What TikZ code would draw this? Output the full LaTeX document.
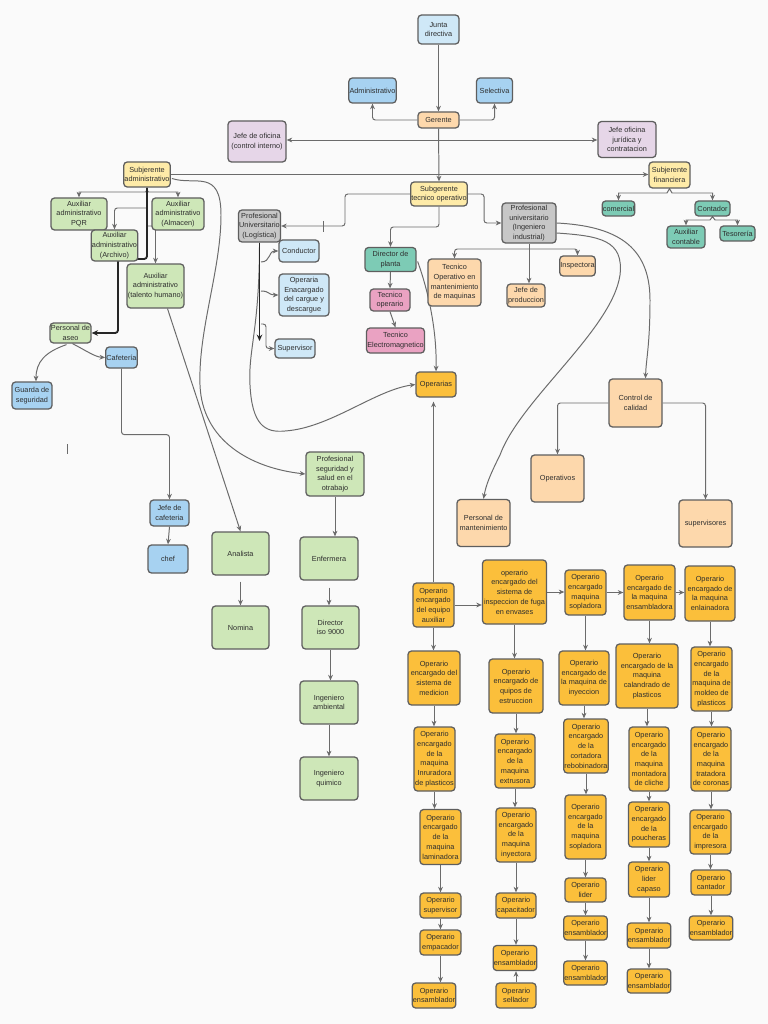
\documentclass[tikz,border=0pt]{standalone}
\usepackage{fontspec}
\setmainfont{Liberation Sans}
\usepackage{xcolor}
\usepackage{tikz}
\usetikzlibrary{positioning,arrows.meta,calc}
\pgfdeclarelayer{background}
\pgfsetlayers{background,main}
\definecolor{paper}{HTML}{FAFAFA}
\definecolor{edgegrey}{HTML}{5E5E5E}
\definecolor{wiregrey}{HTML}{6B6B6B}
\definecolor{inkgrey}{HTML}{2E2E2E}
\definecolor{skyblue}{HTML}{CFE8F7}
\definecolor{midblue}{HTML}{A7D2F1}
\definecolor{peach}{HTML}{FDD8AC}
\definecolor{lilac}{HTML}{E6D6E8}
\definecolor{sand}{HTML}{FEEBA8}
\definecolor{mint}{HTML}{7DCBB5}
\definecolor{greyfill}{HTML}{C7C7C7}
\definecolor{leaf}{HTML}{CEE7B8}
\definecolor{rose}{HTML}{EAA2C2}
\definecolor{amber}{HTML}{FBBF3B}
\tikzset{
  box/.style={draw=edgegrey, line width=0.9pt, rounded corners=2.5pt, align=center,
              inner sep=0.5pt, text=inkgrey, font=\fontsize{5.2}{6.9}\selectfont},
  wh/.style 2 args={minimum width=#1*0.025cm, minimum height=#2*0.025cm},
  skybox/.style={box, fill=skyblue},
  bluebox/.style={box, fill=midblue},
  peachbox/.style={box, fill=peach},
  lilacbox/.style={box, fill=lilac},
  sandbox/.style={box, fill=sand},
  mintbox/.style={box, fill=mint},
  greybox/.style={box, fill=greyfill},
  leafbox/.style={box, fill=leaf},
  rosebox/.style={box, fill=rose},
  amberbox/.style={box, fill=amber},
  wire/.style={draw=wiregrey, line width=0.7pt},
  arrow/.style={wire, -{Stealth[length=1.4mm, width=1.2mm]}},
  fork/.style={wire, {Stealth[length=1.4mm, width=1.2mm]}-{Stealth[length=1.4mm, width=1.2mm]}},
  trunk/.style={draw=black!85, line width=1.3pt, -{Stealth[length=1.6mm, width=1.4mm]}},
}

\begin{document}
\begin{tikzpicture}[x=0.025cm, y=-0.025cm]
  \useasboundingbox (0,0) rectangle (768,1024);

  % direction
  \node[skybox, wh={41}{29}]   (jd)  at (438.5,29.5) {Junta\\directiva};
  \node[bluebox, wh={46}{25}]  (adm) at (372.5,90.5) {Administrativo};
  \node[bluebox, wh={36}{25}]  (sel) at (494.5,90.5) {Selectiva};
  \node[peachbox, wh={41}{16}] (ger) at (438.5,120) {Gerente};
  \node[lilacbox, wh={58}{41}] (jci) at (257,141.5) {Jefe de oficina\\(control interno)};
  \node[lilacbox, wh={58}{36}] (jjc) at (627,139.5) {Jefe oficina\\jurídica y\\contratacion};
  \node[sandbox, wh={40}{25}]  (sa)  at (147,174.5) {Subjerente\\administrativo};
  \node[sandbox, wh={56}{24}]  (st)  at (439,194) {Subgerente\\tecnico operativo};
  \node[sandbox, wh={41}{26}]  (sf)  at (669.5,175) {Subjerente\\financiera};

  % finanzas
  \node[mintbox, wh={31}{15}] (com)  at (618.5,208.5) {comercial};
  \node[mintbox, wh={35}{15}] (cont) at (712.5,208.5) {Contador};
  \node[mintbox, wh={38}{22}] (auxc) at (686,237) {Auxiliar\\contable};
  \node[mintbox, wh={35}{15}] (tes)  at (737.5,233.5) {Tesorería};

  % administracion
  \node[leafbox, wh={56}{32}] (pqr)   at (79,214) {Auxiliar\\administrativo\\PQR};
  \node[leafbox, wh={52}{32}] (alm)   at (178,214) {Auxiliar\\administrativo\\(Almacen)};
  \node[leafbox, wh={45}{31}] (arch)  at (114.5,245.5) {Auxiliar\\administrativo\\(Archivo)};
  \node[leafbox, wh={57}{44}] (th)    at (155.5,286) {Auxiliar\\administrativo\\(talento humano)};
  \node[leafbox, wh={41}{20}] (aseo)  at (70.5,333) {Personal de\\aseo};
  \node[bluebox, wh={31}{21}] (caf)   at (121.5,357.5) {Cafetería};
  \node[bluebox, wh={40}{27}] (guard) at (32,395.5) {Guarda de\\seguridad};
  \node[bluebox, wh={39}{26}] (jcaf)  at (169.5,513) {Jefe de\\cafeteria};
  \node[bluebox, wh={40}{28}] (chef)  at (168,559) {chef};
  \node[leafbox, wh={57}{43}] (ana)   at (240.5,553.5) {Analista};
  \node[leafbox, wh={57}{43}] (nom)   at (240.5,627.5) {Nomina};

  % logistica
  \node[greybox, wh={42}{32}] (log)  at (259.5,226) {Profesional\\Universitario\\(Logística)};
  \node[skybox, wh={40}{22}]  (cond) at (299,251) {Conductor};
  \node[skybox, wh={50}{42}]  (opc)  at (304,295) {Operaria\\Enacargado\\del cargue y\\descargue};
  \node[skybox, wh={40}{19}]  (sup)  at (295,348.5) {Supervisor};

  % planta
  \node[mintbox, wh={51}{24}]  (dir)  at (390.5,259.5) {Director de\\planta};
  \node[rosebox, wh={40}{22}]  (tec)  at (390,300) {Tecnico\\operario};
  \node[rosebox, wh={55}{25}]  (tel)  at (395.5,340.5) {Tecnico\\Electromagnetico};
  \node[amberbox, wh={40}{25}] (opas) at (436,384.5) {Operarias};

  % ingenieria
  \node[greybox, wh={54}{40}]  (pui)   at (529,223) {Profesional\\universitario\\(Ingeniero\\industrial)};
  \node[peachbox, wh={53}{47}] (tom)   at (454.5,282.5) {Tecnico\\Operativo en\\mantenimiento\\de maquinas};
  \node[peachbox, wh={38}{23}] (jprod) at (526,295.5) {Jefe de\\produccion};
  \node[peachbox, wh={31}{20}] (insp)  at (577.5,266) {Inspectora};
  \node[peachbox, wh={53}{48}] (cc)    at (635.5,403) {Control de\\calidad};
  \node[peachbox, wh={53}{47}] (opv)   at (557.5,478.5) {Operativos};
  \node[peachbox, wh={53}{47}] (supv)  at (705.5,523.5) {supervisores};
  \node[peachbox, wh={53}{47}] (pman)  at (483.5,523) {Personal de\\mantenimiento};

  % seguridad y salud
  \node[leafbox, wh={58}{44}] (pss) at (335,474) {Profesional\\seguridad y\\salud en el\\otrabajo};
  \node[leafbox, wh={58}{43}] (enf) at (329,558.5) {Enfermera};
  \node[leafbox, wh={57}{43}] (iso) at (330.5,627.5) {Director\\iso 9000};
  \node[leafbox, wh={58}{43}] (amb) at (329,702.5) {Ingeniero\\ambiental};
  \node[leafbox, wh={58}{43}] (qui) at (329,778.5) {Ingeniero\\quimico};

  % operarios, columna 1
  \node[amberbox, wh={41}{44}] (a1) at (433.5,605) {Operario\\encargado\\del equipo\\auxiliar};
  \node[amberbox, wh={52}{54}] (a2) at (434,678) {Operario\\encargado del\\sistema de\\medicion};
  \node[amberbox, wh={41}{64}] (a3) at (434.5,759) {Operario\\encargado\\de la\\maquina\\Inruradora\\de plasticos};
  \node[amberbox, wh={41}{55}] (a4) at (440.5,837) {Operario\\encargado\\de la\\maquina\\laminadora};
  \node[amberbox, wh={41}{25}] (a5) at (440.5,905.5) {Operario\\supervisor};
  \node[amberbox, wh={41}{25}] (a6) at (440.5,942.5) {Operario\\empacador};
  \node[amberbox, wh={42}{25}] (a7) at (434,995.5) {Operario\\ensamblador};

  % operarios, columna 2
  \node[amberbox, wh={64}{64}] (b1) at (514.5,592) {operario\\encargado del\\sistema de\\inspeccion de fuga\\en envases};
  \node[amberbox, wh={54}{54}] (b2) at (516,686) {Operario\\encargado de\\quipos de\\estruccion};
  \node[amberbox, wh={40}{54}] (b3) at (515,761) {Operario\\encargado\\de la\\maquina\\extrusora};
  \node[amberbox, wh={40}{54}] (b4) at (516,835) {Operario\\encargado\\de la\\maquina\\inyectora};
  \node[amberbox, wh={40}{25}] (b5) at (516,905.5) {Operario\\capacitador};
  \node[amberbox, wh={40}{25}] (b6) at (515,958) {Operario\\ensamblador};
  \node[amberbox, wh={40}{25}] (b7) at (516,995.5) {Operario\\sellador};

  % operarios, columna 3
  \node[amberbox, wh={41}{45}] (c1) at (585.5,592.5) {Operario\\encargado\\maquina\\sopladora};
  \node[amberbox, wh={50}{54}] (c2) at (584,678) {Operario\\encargado de\\la maquina de\\inyeccion};
  \node[amberbox, wh={40}{54}] (c3) at (586,746) {Operario\\encargado\\de la\\cortadora\\rebobinadora};
  \node[amberbox, wh={41}{64}] (c4) at (585.5,827) {Operario\\encargado\\de la\\maquina\\sopladora};
  \node[amberbox, wh={41}{24}] (c5) at (585.5,890) {Operario\\lider};
  \node[amberbox, wh={41}{24}] (c6) at (585.5,928) {Operario\\ensamblador};
  \node[amberbox, wh={41}{24}] (c7) at (585.5,973) {Operario\\ensamblador};

  % operarios, columna 4
  \node[amberbox, wh={51}{55}] (d1) at (649.5,592.5) {Operario\\encargado de\\la maquina\\ensambladora};
  \node[amberbox, wh={62}{64}] (d2) at (647,676) {Operario\\encargado de la\\maquina\\calandrado de\\plasticos};
  \node[amberbox, wh={40}{64}] (d3) at (649,759) {Operario\\encargado\\de la\\maquina\\montadora\\de cliche};
  \node[amberbox, wh={41}{45}] (d4) at (649,824.5) {Operario\\encargado\\de la\\poucheras};
  \node[amberbox, wh={41}{35}] (d5) at (649,879.5) {Operario\\lider\\capaso};
  \node[amberbox, wh={41}{25}] (d6) at (649,935.5) {Operario\\ensamblador};
  \node[amberbox, wh={41}{24}] (d7) at (649,981) {Operario\\ensamblador};

  % operarios, columna 5
  \node[amberbox, wh={50}{55}] (e1) at (710,593.5) {Operario\\encargado de\\la maquina\\enlainadora};
  \node[amberbox, wh={41}{64}] (e2) at (711.5,679) {Operario\\encargado\\de la\\maquina de\\moldeo de\\plasticos};
  \node[amberbox, wh={40}{64}] (e3) at (711,759) {Operario\\encargado\\de la\\maquina\\tratadora\\de coronas};
  \node[amberbox, wh={41}{44}] (e4) at (710.5,832) {Operario\\encargado\\de la\\impresora};
  \node[amberbox, wh={40}{25}] (e5) at (711,882.5) {Operario\\cantador};
  \node[amberbox, wh={40}{24}] (e6) at (711,928) {Operario\\ensamblador};

  \begin{pgfonlayer}{background}
    \fill[paper] (0,0) rectangle (768,1024);

    % direction
    \coordinate (hub) at (438.5,140);
    \draw[arrow] (jd.south) -- (ger.north);
    \draw[arrow, rounded corners=2pt] (ger.west) -| (adm.south);
    \draw[arrow, rounded corners=2pt] (ger.east) -| (sel.south);
    \draw[arrow] (ger.south) -- (st.north);
    \draw[arrow] (hub) -- (hub -| jci.east);
    \draw[arrow] (hub) -- (hub -| jjc.west);
    \draw[arrow] (sa.east) -- (sa.east -| sf.west);

    % finanzas
    \draw[fork] (com.north) |- (667,193) -- (sf.south) -- (672,193) -| (cont.north);
    \draw[fork] (auxc.north) |- (710,220) -- (cont.south) -- (715,220) -| (tes.north);

    % administracion
    \coordinate (t1) at (147,208);
    \coordinate (t2) at (147,226);
    \coordinate (fk) at (147,190);
    \draw[fork] (pqr.north) |- (145.5,192) -- (fk) -- (148.5,192) -| (alm.north);
    \draw[arrow, rounded corners=2pt] (t1) -| (arch.north);
    \draw[arrow, rounded corners=2pt] (t2) -| (th.north);
    \draw[trunk, rounded corners=2pt] (sa.south) -- (147,259) -| (118,333) -- (aseo.east);
    \draw[arrow] ($(aseo.south)+(-4,1)$) .. controls (45,352) and (36,362) .. ($(guard.north)+(4,0)$);
    \draw[arrow] ($(aseo.south)+(2,0)$) .. controls (85,350) and (95,357) .. (caf.west);
    \draw[arrow, rounded corners=2pt] (caf.south) -- ++(0,66) -| (jcaf.north);
    \draw[arrow] (jcaf.south) -- (chef.north);
    \draw[arrow] ($(th.south)+(12,0)$) -- (ana.north);
    \draw[arrow] ($(ana.south)+(0,6)$) -- (nom.north);
    \draw[arrow] ($(sa.east)+(1,4)$) .. controls (195,186) and (221,168) .. (221,215)
      .. controls (221,270) and (198,330) .. (200,385)
      .. controls (202,440) and (250,468) .. (pss.west);
    \draw[wire] (67,444) -- (67,454);

    % logistica
    \coordinate (logend) at (259.5,341);
    \coordinate (l1) at (261,262);
    \coordinate (l2) at (261,291);
    \coordinate (l3) at (261,324);
    \draw[arrow] (log.south) .. controls (259.5,330) and (248,350) .. (250,385)
      .. controls (252,425) and (265,433) .. (285,431)
      .. controls (330,428) and (375,390) .. (opas.west);
    \draw[trunk] (log.south) -- (logend);
    \draw[arrow] (l1) .. controls (271,262) and (268,251) .. (cond.west);
    \draw[arrow] (l2) .. controls (270,291) and (268,295) .. (opc.west);
    \draw[arrow, rounded corners=2pt] (l3) -- (266,324) |- (sup.west);
    \draw[arrow, rounded corners=2pt] (st.west) -| (345,226) -- (log.east);
    \draw[wire] (323,221) -- (323,232);

    % planta
    \draw[arrow, rounded corners=2pt] (st.south) |- (390.5,227) -- (dir.north);
    \draw[arrow] (dir.south) -- (tec.north);
    \draw[arrow] (tec.south) -- (tel.north);
    \draw[arrow] ($(dir.east)+(1,2)$) .. controls (428,290) and (437,330) .. (opas.north);
    \draw[arrow] (a1.north) -- ($(a1.north |- opas.south)+(0,4)$);

    % ingenieria
    \coordinate (pb) at (529,249);
    \draw[arrow, rounded corners=2pt] (st.east) -| (484,223) -- (pui.west);
    \draw[wire] (pui.south) -- (pb);
    \draw[arrow, rounded corners=2pt] (pb) -| (tom.north);
    \draw[arrow, rounded corners=2pt] (pb) -| (insp.north);
    \draw[arrow] (pb) -- (pb |- jprod.north);
    \draw[arrow] (pui.east) .. controls (615,226) and (650,245) .. (650,300)
      .. controls (650,345) and (646,360) .. ($(cc.north)+(10,0)$);
    \draw[arrow] ($(pui.east)+(0,10)$) .. controls (600,236) and (624,240) .. (620,275)
      .. controls (612,330) and (520,400) .. (500,455)
      .. controls (490,475) and (486,485) .. (pman.north);
    \draw[arrow, rounded corners=2pt] (cc.west) -| (opv.north);
    \draw[arrow, rounded corners=2pt] (cc.east) -| (supv.north);

    % seguridad y salud
    \draw[arrow] (pss.south) -- (pss.south |- enf.north);
    \draw[arrow] ($(enf.south)+(0,7)$) -- (enf.south |- iso.north);
    \draw[arrow] (iso.south) -- (iso.south |- amb.north);
    \draw[arrow] (amb.south) -- (amb.south |- qui.north);

    % operarios
    \draw[arrow] (a1.east) -- (a1.east -| b1.west);
    \draw[arrow] (b1.east) -- (b1.east -| c1.west);
    \draw[arrow] (c1.east) -- (c1.east -| d1.west);
    \draw[arrow] (d1.east) -- (d1.east -| e1.west);

    \draw[arrow] (a1.south) -- (a1.south |- a2.north);
    \draw[arrow] (a2.south) -- (a2.south |- a3.north);
    \draw[arrow] (a3.south) -- (a3.south |- a4.north);
    \draw[arrow] (a4.south) -- (a4.south |- a5.north);
    \draw[arrow] (a5.south) -- (a5.south |- a6.north);
    \draw[arrow] (a6.south) -- (a6.south |- a7.north);

    \draw[arrow] (b1.south) -- (b1.south |- b2.north);
    \draw[arrow] (b2.south) -- (b2.south |- b3.north);
    \draw[arrow] (b3.south) -- (b3.south |- b4.north);
    \draw[arrow] (b4.south) -- (b4.south |- b5.north);
    \draw[arrow] (b5.south) -- (b5.south |- b6.north);
    \draw[arrow] (b7.north) -- (b7.north |- b6.south);

    \draw[arrow] (c1.south) -- (c1.south |- c2.north);
    \draw[arrow] (c2.south) -- (c2.south |- c3.north);
    \draw[arrow] (c3.south) -- (c3.south |- c4.north);
    \draw[arrow] (c4.south) -- (c4.south |- c5.north);
    \draw[arrow] (c5.south) -- (c5.south |- c6.north);
    \draw[arrow] (c6.south) -- (c6.south |- c7.north);

    \draw[arrow] (d1.south) -- (d1.south |- d2.north);
    \draw[arrow] (d2.south) -- (d2.south |- d3.north);
    \draw[arrow] (d3.south) -- (d3.south |- d4.north);
    \draw[arrow] (d4.south) -- (d4.south |- d5.north);
    \draw[arrow] (d5.south) -- (d5.south |- d6.north);
    \draw[arrow] (d6.south) -- (d6.south |- d7.north);

    \draw[arrow] (e1.south) -- (e1.south |- e2.north);
    \draw[arrow] (e2.south) -- (e2.south |- e3.north);
    \draw[arrow] (e3.south) -- (e3.south |- e4.north);
    \draw[arrow] (e4.south) -- (e4.south |- e5.north);
    \draw[arrow] (e5.south) -- (e5.south |- e6.north);
  \end{pgfonlayer}
\end{tikzpicture}
\end{document}
